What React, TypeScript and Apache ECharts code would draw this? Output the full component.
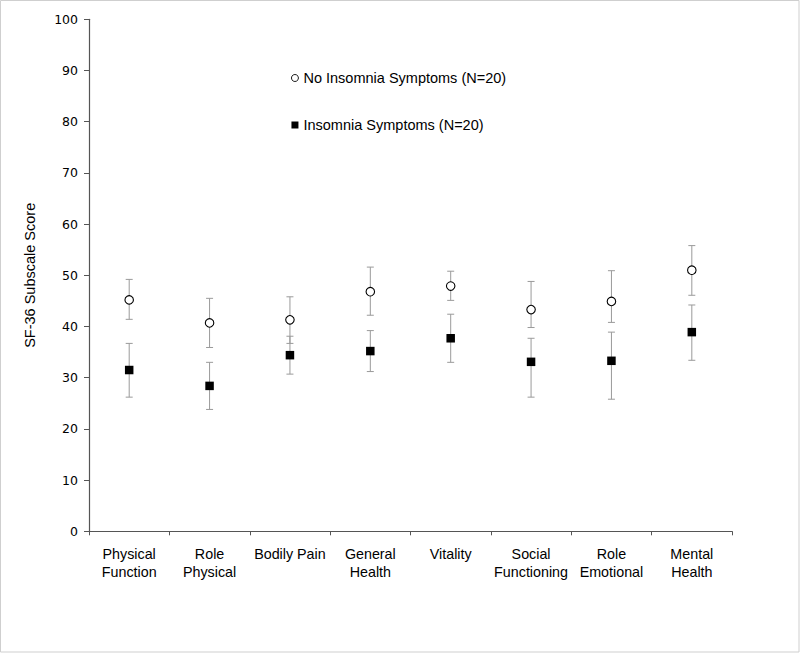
import React, { useEffect, useRef } from "react";
import * as echarts from "echarts";

const categories = [
  "Physical\nFunction",
  "Role\nPhysical",
  "Bodily Pain",
  "General\nHealth",
  "Vitality",
  "Social\nFunctioning",
  "Role\nEmotional",
  "Mental\nHealth",
];
const noInsomniaMean = [45.2, 40.7, 41.3, 46.8, 47.9, 43.3, 44.9, 51.0];
const noInsomniaLow = [41.4, 35.9, 36.7, 42.2, 45.1, 39.8, 40.8, 46.1];
const noInsomniaHigh = [49.2, 45.5, 45.8, 51.6, 50.8, 48.8, 50.9, 55.8];
const insomniaMean = [31.5, 28.4, 34.4, 35.2, 37.7, 33.1, 33.3, 38.9];
const insomniaLow = [26.2, 23.8, 30.7, 31.2, 33.0, 26.2, 25.8, 33.4];
const insomniaHigh = [36.7, 33.0, 38.1, 39.2, 42.4, 37.7, 38.9, 44.2];
const seriesNames = ["No Insomnia Symptoms (N=20)", "Insomnia Symptoms (N=20)"];

const FONT = "'Liberation Sans', Arial, Helvetica, sans-serif";

function errorRender(params: any, api: any) {
  const x = api.value(0);
  const lo = api.coord([x, api.value(1)]);
  const hi = api.coord([x, api.value(2)]);
  const cap = 3.5;
  const style = { stroke: "#9a9a9a", lineWidth: 1 };
  return {
    type: "group",
    children: [
      { type: "line", shape: { x1: lo[0], y1: lo[1], x2: hi[0], y2: hi[1] }, style },
      { type: "line", shape: { x1: lo[0] - cap, y1: lo[1], x2: lo[0] + cap, y2: lo[1] }, style },
      { type: "line", shape: { x1: hi[0] - cap, y1: hi[1], x2: hi[0] + cap, y2: hi[1] }, style },
    ],
  };
}

export default function App() {
  const ref = useRef<HTMLDivElement>(null);
  useEffect(() => {
    if (!ref.current) return;
    const chart = echarts.init(ref.current, null, { renderer: "svg" });
    const errNo = categories.map((_, i) => [i, noInsomniaLow[i], noInsomniaHigh[i]]);
    const errIns = categories.map((_, i) => [i, insomniaLow[i], insomniaHigh[i]]);
    chart.setOption({
      animation: false,
      backgroundColor: "#ffffff",
      textStyle: { fontFamily: FONT },
      graphic: [
        {
          type: "rect",
          shape: { x: 0.5, y: 0.5, width: 798.5, height: 651.5 },
          style: { fill: "none", stroke: "#cfcfcf", lineWidth: 1 },
          silent: true,
        },
      ],
      grid: { left: 89, right: 68, top: 19.3, bottom: 121.7, containLabel: false },
      legend: {
        data: seriesNames,
        orient: "vertical",
        left: 291,
        top: 70,
        padding: 0,
        itemGap: 31,
        itemWidth: 7,
        itemHeight: 7,
        itemStyle: { borderWidth: 0.9 },
        textStyle: { fontSize: 14.5, color: "#000", fontFamily: FONT, lineHeight: 16 },
        selectedMode: false,
      },
      xAxis: {
        type: "category",
        data: categories,
        boundaryGap: true,
        axisLine: { show: true, lineStyle: { color: "#555", width: 1.2 } },
        axisTick: { show: true, alignWithLabel: false, interval: 0, length: 4, lineStyle: { color: "#555" } },
        axisLabel: {
          interval: 0,
          margin: 14,
          fontSize: 14.3,
          lineHeight: 17.5,
          color: "#000",
          fontFamily: FONT,
        },
        splitLine: { show: false },
      },
      yAxis: {
        type: "value",
        min: 0,
        max: 100,
        interval: 10,
        name: "SF-36 Subscale Score",
        nameLocation: "middle",
        nameGap: 52,
        nameTextStyle: { fontSize: 14.5, color: "#000", fontFamily: FONT },
        axisLine: { show: true, lineStyle: { color: "#555", width: 1.2 } },
        axisTick: { show: true, length: 5, lineStyle: { color: "#555" } },
        axisLabel: { margin: 11, fontSize: 12.5, color: "#000", fontFamily: "'DejaVu Sans', sans-serif" },
        splitLine: { show: false },
      },
      series: [
        {
          name: "errNo",
          type: "custom",
          renderItem: errorRender,
          data: errNo,
          z: 1,
          silent: true,
          encode: { x: 0, y: [1, 2] },
        },
        {
          name: "errIns",
          type: "custom",
          renderItem: errorRender,
          data: errIns,
          z: 1,
          silent: true,
          encode: { x: 0, y: [1, 2] },
        },
        {
          name: seriesNames[0],
          type: "scatter",
          data: noInsomniaMean,
          symbol: "circle",
          symbolSize: 8.5,
          itemStyle: { color: "#ffffff", borderColor: "#000000", borderWidth: 1.1, opacity: 1 },
          z: 3,
        },
        {
          name: seriesNames[1],
          type: "scatter",
          data: insomniaMean,
          symbol: "rect",
          symbolSize: 8.5,
          itemStyle: { color: "#000000", opacity: 1 },
          z: 3,
        },
      ],
    });
    return () => chart.dispose();
  }, []);
  return (
    <div
      ref={ref}
      style={{ position: "absolute", left: 0, top: 0, width: 800, height: 653 }}
    />
  );
}
